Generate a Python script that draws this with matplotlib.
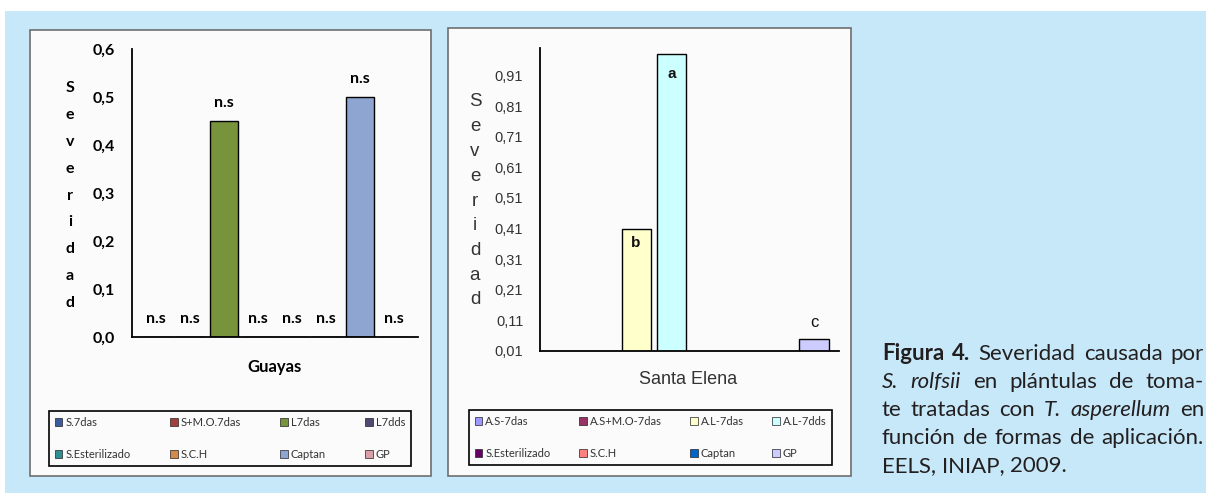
import matplotlib
matplotlib.use('Agg')
import matplotlib.pyplot as plt
from matplotlib.patches import Rectangle, Patch
from matplotlib import font_manager

W, H = 1206, 493

# --- Guayas panel data
guayas_series = ['S.7das', 'S+M.O.7das', 'L7das', 'L7dds',
                 'S.Esterilizado', 'S.C.H', 'Captan', 'GP']
guayas_values = [0, 0, 0.45, 0, 0, 0, 0.50, 0]
guayas_marks = ['n.s', 'n.s', 'n.s', 'n.s', 'n.s', 'n.s', 'n.s', 'n.s']
guayas_colors = ['#3d5a9c', '#a3403c', '#77933c', '#4f4a72',
                 '#2f8f90', '#d3894a', '#8ea5d1', '#d9a0aa']
guayas_yticks = [0.0, 0.1, 0.2, 0.3, 0.4, 0.5, 0.6]

# --- Santa Elena panel data
se_series = ['A.S-7das', 'A.S+M.O-7das', 'A.L-7das', 'A.L-7dds',
             'S.Esterilizado', 'S.C.H', 'Captan', 'GP']
se_values = [0, 0, 0.41, 0.98, 0, 0, 0, 0.05]
se_marks = ['', '', 'b', 'a', '', '', '', 'c']
se_colors = ['#9999ff', '#993366', '#ffffcc', '#ccffff',
             '#660066', '#ff8080', '#0066cc', '#ccccff']
se_yticks = [0.01, 0.11, 0.21, 0.31, 0.41, 0.51, 0.61, 0.71, 0.81, 0.91]

caption = [
    [('Figura', 'bold'), ('4.', 'bold'), ('Severidad', 'normal'), ('causada', 'normal'), ('por', 'normal')],
    [('S.', 'italic'), ('rolfsii', 'italic'), ('en', 'normal'), ('plántulas', 'normal'), ('de', 'normal'), ('toma-', 'normal')],
    [('te', 'normal'), ('tratadas', 'normal'), ('con', 'normal'), ('T.', 'italic'), ('asperellum', 'italic'), ('en', 'normal')],
    [('función', 'normal'), ('de', 'normal'), ('formas', 'normal'), ('de', 'normal'), ('aplicación.', 'normal')],
    [('EELS,', 'normal'), ('INIAP,', 'normal'), ('2009.', 'normal')],
]

names = {f.name for f in font_manager.fontManager.ttflist}
arial = 'Liberation Sans'
narrow = 'Liberation Sans Narrow' if 'Liberation Sans Narrow' in names else 'Liberation Sans'
calibri = 'Lato'


def fx(x):
    return x / W


def fy(y):
    return 1 - y / H


def box(x0, y0, x1, y1):
    return [fx(x0), fy(y1), fx(x1) - fx(x0), fy(y0) - fy(y1)]


fig = plt.figure(figsize=(W / 100, H / 100), dpi=100, facecolor='white')
fig.add_artist(Rectangle((fx(5), 0), 1, fy(11), transform=fig.transFigure,
                         facecolor='#c6e8f8', edgecolor='none', zorder=-3))
for x0, y0, x1, y1 in [(30, 30, 431, 476), (448, 28, 851, 476)]:
    fig.add_artist(Rectangle((fx(x0), fy(y1)), fx(x1) - fx(x0), fy(y0) - fy(y1),
                             transform=fig.transFigure, facecolor='#fbfbfb',
                             edgecolor='#6e6e6e', lw=1.2, zorder=-2))

x = list(range(len(guayas_series)))


def style_axes(ax):
    ax.set_facecolor('none')
    for s in ['top', 'right']:
        ax.spines[s].set_visible(False)
    for s in ['left', 'bottom']:
        ax.spines[s].set_linewidth(1.3)
        ax.spines[s].set_color('black')
    ax.set_xticks([])
    ax.tick_params(axis='y', length=0, pad=12)
    ax.set_xlim(-0.7, len(x) - 0.3)


# ---- Guayas
ax1 = fig.add_axes(box(132, 49, 418, 337))
style_axes(ax1)
ax1.bar(x, guayas_values, width=0.82, color=guayas_colors,
        edgecolor='black', linewidth=1.0)
ax1.set_ylim(0, 0.6)
ax1.set_yticks(guayas_yticks)
ax1.set_yticklabels([f'{v:.1f}'.replace('.', ',') for v in guayas_yticks],
                    family=calibri, fontweight='bold', fontsize=11.5)
for xi, v, m in zip(x, guayas_values, guayas_marks):
    ax1.annotate(m, (xi, v), xytext=(0, 18), textcoords='offset pixels',
                 ha='center', va='center', family=calibri,
                 fontweight='bold', fontsize=11.5)
for i, ch in enumerate('Severidad'):
    fig.text(fx(70), fy(88 + i * 26.9), ch, ha='center', va='center',
             family=calibri, fontweight='bold', fontsize=11.5)
fig.text(fx(275), fy(367), 'Guayas', ha='center', va='center',
         family=calibri, fontweight='bold', fontsize=12)


def add_legend(ax, labels, colors, x0, y0, x1, y1):
    order = [0, 4, 1, 5, 2, 6, 3, 7]
    handles = [Patch(facecolor=colors[i], edgecolor='#222222', lw=0.5) for i in order]
    leg = ax.legend(handles, [labels[i] for i in order], ncol=4,
                    loc='center', bbox_to_anchor=box(x0, y0, x1, y1),
                    bbox_transform=fig.transFigure, mode='expand',
                    prop={'family': calibri, 'size': 8},
                    handlelength=0.7, handleheight=0.7, handletextpad=0.25,
                    labelspacing=1.85, borderpad=0.55, fancybox=False,
                    frameon=True, edgecolor='black', framealpha=1,
                    facecolor='#fbfbfb')
    leg.get_frame().set_linewidth(1.2)
    for t in leg.get_texts():
        t.set_color('#333333')


add_legend(ax1, guayas_series, guayas_colors, 43, 408, 417, 469)

# ---- Santa Elena
ax2 = fig.add_axes(box(540, 48, 839, 351))
style_axes(ax2)
ax2.bar(x, se_values, width=0.82, color=se_colors,
        edgecolor='black', linewidth=1.0)
ax2.set_ylim(0.01, 1.0)
ax2.set_yticks(se_yticks)
ax2.set_yticklabels([f'{v:.2f}'.replace('.', ',') for v in se_yticks],
                    family=narrow, fontsize=10.5, color='#333333')
mark_style = {'a': (-20, 'bold', 11), 'b': (-14, 'bold', 11), 'c': (16, 'normal', 12)}
for xi, v, m in zip(x, se_values, se_marks):
    if m:
        off, wt, sz = mark_style[m]
        ax2.annotate(m, (xi, v), xytext=(0, off), textcoords='offset pixels',
                     ha='center', va='center', family=arial,
                     fontweight=wt, fontsize=sz, color='#111111')
for i, ch in enumerate('Severidad'):
    fig.text(fx(475), fy(102 + i * 24.75), ch, ha='center', va='center',
             family=arial, fontsize=13.5, color='#333333')
fig.text(fx(688), fy(380), 'Santa Elena', ha='center', va='center',
         family=arial, fontsize=13, color='#333333')
add_legend(ax2, se_series, se_colors, 463, 408, 838, 467)

# ---- caption, justified
fig.canvas.draw()
rend = fig.canvas.get_renderer()


def measure(txt, **kw):
    t = fig.text(0, 0, txt, **kw)
    w = t.get_window_extent(rend).width
    t.remove()
    return w


def kw_for(st, size):
    kw = {'family': calibri, 'fontsize': size, 'color': '#231f20'}
    if st == 'bold':
        kw['fontweight'] = 'bold'
    elif st == 'italic':
        kw['fontstyle'] = 'italic'
    return kw


left, right = 882, 1204
size = 10 * 316 / measure('función de formas de aplicación.', family=calibri, fontsize=10)
space = measure('a a', **kw_for('normal', size)) - 2 * measure('a', **kw_for('normal', size))
for li, line in enumerate(caption):
    base = 360 + li * 28
    widths = [measure(w, **kw_for(st, size)) for w, st in line]
    if li < len(caption) - 1:
        gap = (right - left - sum(widths)) / (len(line) - 1)
    else:
        gap = space
    cx = left
    for (w, st), wd in zip(line, widths):
        fig.text(fx(cx), fy(base), w, ha='left', va='baseline', **kw_for(st, size))
        cx += wd + gap

fig.savefig('out.png', dpi=100, facecolor='white')
